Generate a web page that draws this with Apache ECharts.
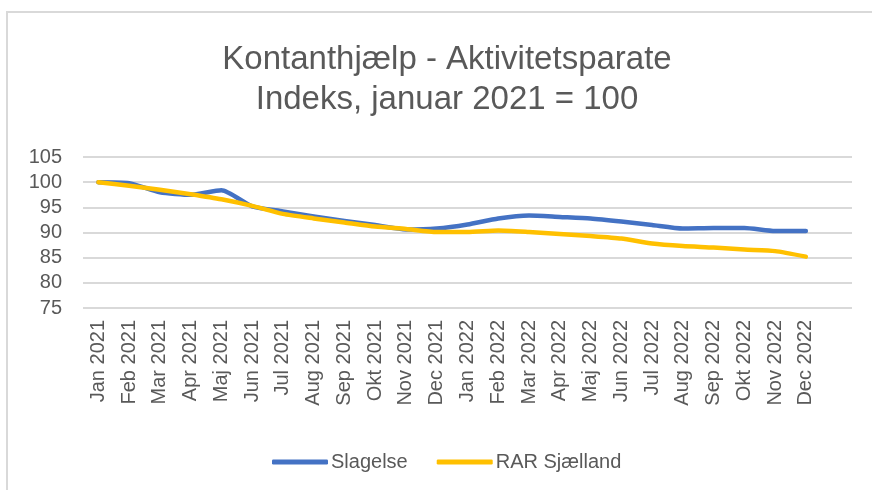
<!DOCTYPE html>
<html>
<head>
    <meta charset="utf-8">
    <title>Kontanthjælp - Aktivitetsparate</title>
    <script src="https://cdn.jsdelivr.net/npm/echarts@6/dist/echarts.min.js"></script>
    <style>
        html, body { margin: 0; padding: 0; background: #fff; }
        #frame { position: absolute; left: 6px; top: 11px; width: 880px; height: 500px;
                 border-left: 2px solid #d9d9d9; border-top: 2px solid #d9d9d9; }
        #chart { position: absolute; left: 0; top: 0; width: 872px; height: 490px; }
    </style>
</head>
<body>
<div id="frame"></div>
<div id="chart"></div>

<script>
    // månedsakse
    var months = ['Jan 2021', 'Feb 2021', 'Mar 2021', 'Apr 2021', 'Maj 2021', 'Jun 2021',
        'Jul 2021', 'Aug 2021', 'Sep 2021', 'Okt 2021', 'Nov 2021', 'Dec 2021',
        'Jan 2022', 'Feb 2022', 'Mar 2022', 'Apr 2022', 'Maj 2022', 'Jun 2022',
        'Jul 2022', 'Aug 2022', 'Sep 2022', 'Okt 2022', 'Nov 2022', 'Dec 2022'];

    var slagelse = [100, 99.8, 98.0, 97.5, 98.4, 95.2, 94.2, 93.2, 92.3, 91.5, 90.6, 90.8,
        91.6, 92.8, 93.4, 93.1, 92.8, 92.2, 91.5, 90.8, 90.9, 90.9, 90.3, 90.3];

    var rarSjaelland = [100, 99.3, 98.5, 97.6, 96.6, 95.3, 93.7, 92.8, 92.0, 91.2, 90.7, 90.1,
        90.1, 90.4, 90.1, 89.7, 89.3, 88.8, 87.8, 87.3, 87.0, 86.6, 86.3, 85.2];

    var yTicks = {min: 75, max: 105, interval: 5};

    var grey = '#595959';
    var font = 'Liberation Sans';

    var myChart = echarts.init(document.getElementById('chart'));

    var option = {
        animation: false,
        title: {
            text: 'Kontanthjælp - Aktivitetsparate\nIndeks, januar 2021 = 100',
            left: 442,
            top: 35,
            textAlign: 'center',
            textStyle: {
                fontFamily: font,
                fontWeight: 'normal',
                fontSize: 33,
                lineHeight: 40,
                color: grey
            }
        },
        legend: {
            left: 267,
            top: 447,
            itemWidth: 56,
            itemHeight: 5,
            itemGap: 29,
            icon: 'roundRect',
            textStyle: {fontFamily: font, fontSize: 20, color: grey, padding: [0, 0, 0, -2]},
            data: ['Slagelse', 'RAR Sjælland']
        },
        grid: {
            left: 83,
            right: 20,
            top: 157,
            bottom: 182,
            containLabel: false
        },
        xAxis: {
            type: 'category',
            data: months,
            boundaryGap: true,
            max: months.length, // tom plads til højre som i originalen
            axisTick: {show: false},
            axisLine: {show: false},
            axisLabel: {
                rotate: 90,
                interval: 0,
                margin: 12,
                fontFamily: font,
                fontSize: 20,
                color: grey,
                formatter: function (v) { return v || ''; }
            }
        },
        yAxis: {
            type: 'value',
            min: yTicks.min,
            max: yTicks.max,
            interval: yTicks.interval,
            axisLine: {show: false},
            axisTick: {show: false},
            splitLine: {lineStyle: {color: '#d9d9d9', width: 2}},
            axisLabel: {
                margin: 21,
                fontFamily: font,
                fontSize: 20,
                color: grey
            }
        },
        series: [{
            name: 'Slagelse',
            type: 'line',
            data: slagelse,
            smooth: 0.2,
            symbol: 'none',
            itemStyle: {color: '#4472c4'},
            lineStyle: {color: '#4472c4', width: 4.5, cap: 'round', join: 'round'}
        }, {
            name: 'RAR Sjælland',
            type: 'line',
            data: rarSjaelland,
            smooth: 0.2,
            symbol: 'none',
            itemStyle: {color: '#ffc000'},
            lineStyle: {color: '#ffc000', width: 4.5, cap: 'round', join: 'round'}
        }]
    };

    myChart.setOption(option);
</script>
</body>
</html>
